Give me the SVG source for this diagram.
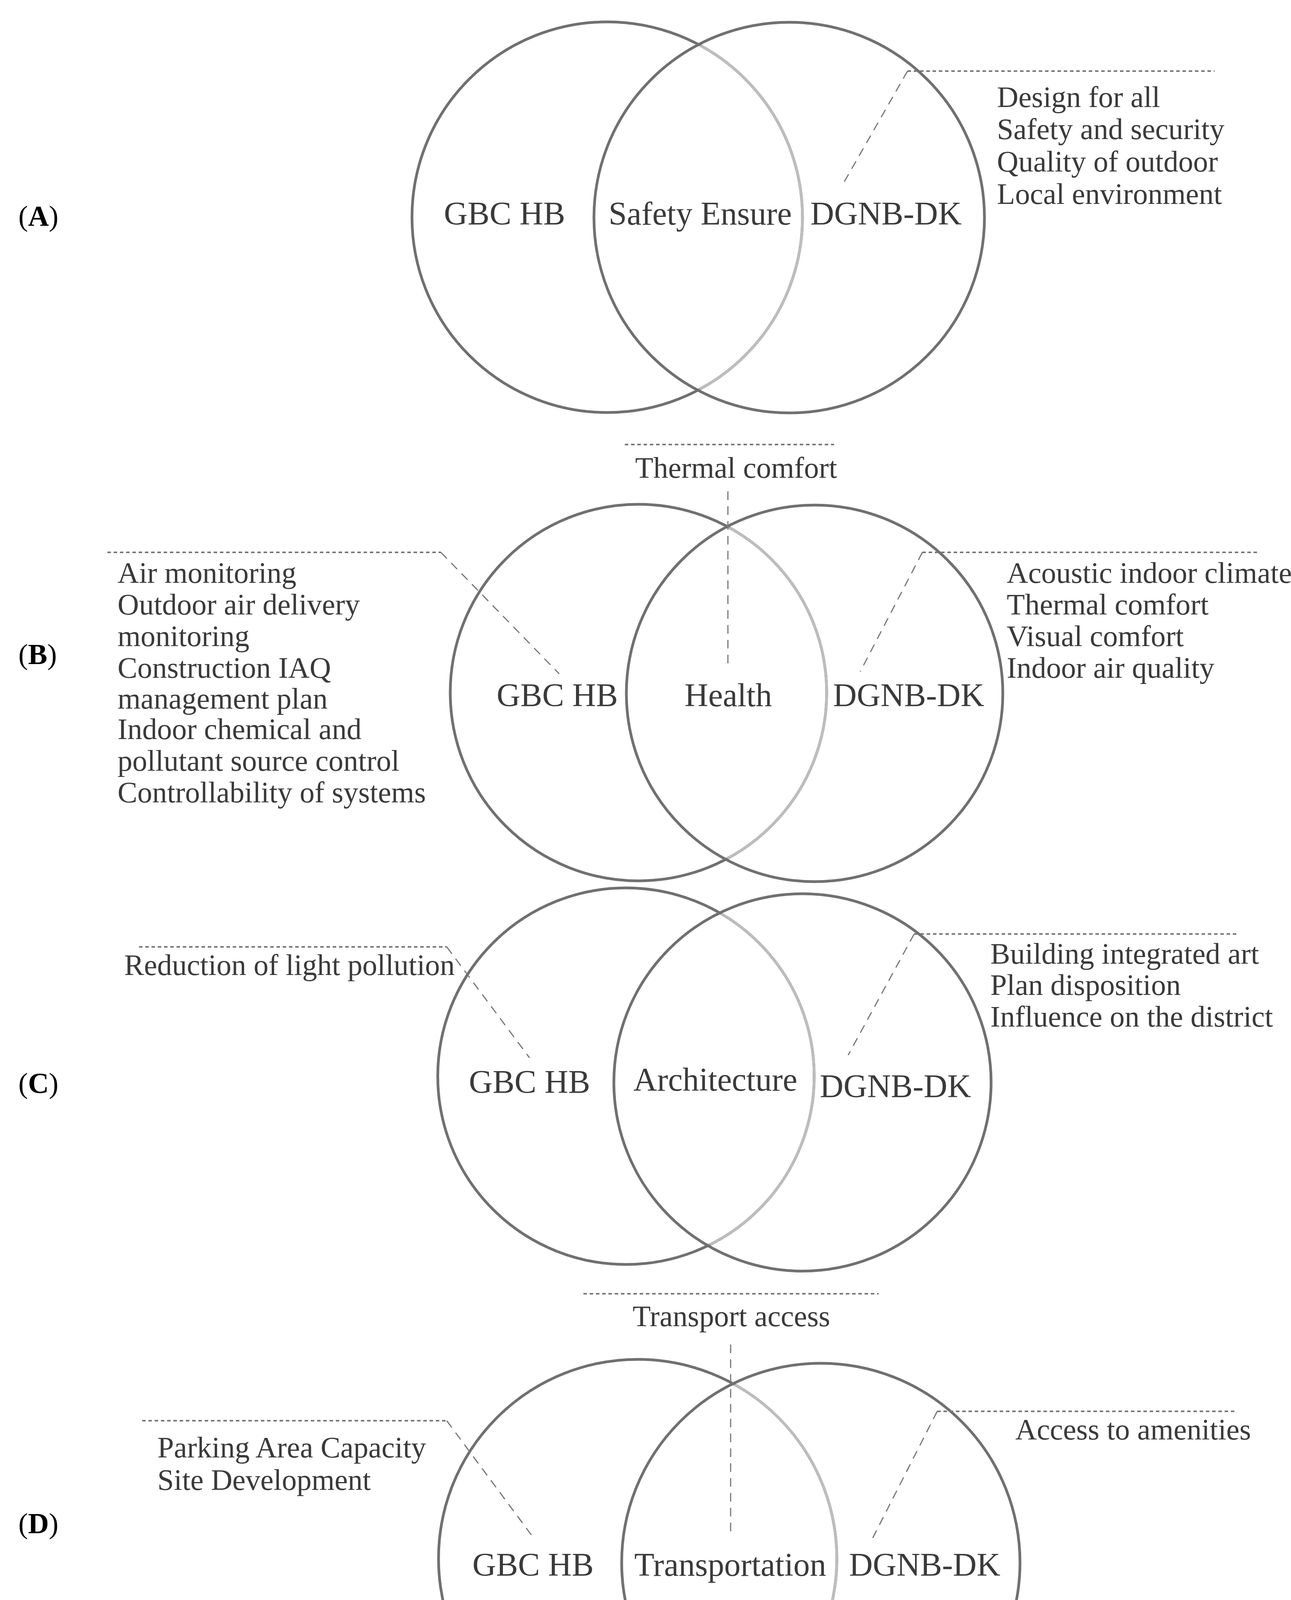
<svg xmlns="http://www.w3.org/2000/svg" width="3306" height="4544" viewBox="0 0 3306 4544">
<style>
text{font-family:"Liberation Serif","DejaVu Serif",serif;fill:#3a3a3a;font-size:76px}
.lab{font-size:84px;text-anchor:middle}
.pl{font-size:74px;fill:#000}
.c{fill:none;stroke:#707070;stroke-width:7}
.cl{fill:none;stroke:#bdbdbd;stroke-width:7}
.h{stroke:#777;stroke-width:4;stroke-dasharray:9 7;fill:none}
.s{stroke:#777;stroke-width:3;stroke-dasharray:22 16;fill:none}
</style>
<defs>
<clipPath id="kA"><circle cx="2021" cy="557" r="496"/></clipPath>
<clipPath id="kB"><circle cx="2086" cy="1775" r="478"/></clipPath>
<clipPath id="kC"><circle cx="2055" cy="2771" r="479"/></clipPath>
<clipPath id="kD"><circle cx="2102" cy="4000" r="506"/></clipPath>
</defs>
<rect width="3306" height="4544" fill="#fff"/>
<g id="panelA">
<text class="pl" x="47" y="578">(<tspan font-weight="bold">A</tspan>)</text>
<g id="A-gbc"><circle class="c" cx="1555" cy="556" r="500"/><circle class="cl" cx="1555" cy="556" r="500" clip-path="url(#kA)"/><text class="lab" x="1292" y="575">GBC HB</text></g>
<g id="A-dgnb"><circle class="c" cx="2021" cy="557" r="500"/><text class="lab" x="2269" y="575">DGNB-DK</text></g>
<g id="A-mid"><text class="lab" x="1793" y="575">Safety Ensure</text></g>
<g id="A-list"><text x="2553" y="274">Design for all</text><text x="2553" y="356">Safety and security</text><text x="2553" y="439">Quality of outdoor</text><text x="2553" y="522">Local environment</text></g>
</g>
<g id="panelB">
<text class="pl" x="47" y="1700">(<tspan font-weight="bold">B</tspan>)</text>
<g id="B-gbc"><circle class="c" cx="1635" cy="1773" r="482"/><circle class="cl" cx="1635" cy="1773" r="482" clip-path="url(#kB)"/><text class="lab" x="1427" y="1808">GBC HB</text></g>
<g id="B-dgnb"><circle class="c" cx="2086" cy="1775" r="482"/><text class="lab" x="2327" y="1808">DGNB-DK</text></g>
<g id="B-mid"><text class="lab" x="1865" y="1808">Health</text></g>
<g id="B-top"><text class="lab" x="1885" y="1223" style="font-size:76px">Thermal comfort</text></g>
<g id="B-left"><text x="301" y="1492">Air monitoring</text><text x="301" y="1573">Outdoor air delivery</text><text x="301" y="1654">monitoring</text><text x="301" y="1735">Construction IAQ</text><text x="301" y="1814">management plan</text><text x="301" y="1892">Indoor chemical and</text><text x="301" y="1973">pollutant source control</text><text x="301" y="2054">Controllability of systems</text></g>
<g id="B-right"><text x="2578" y="1492">Acoustic indoor climate</text><text x="2578" y="1573">Thermal comfort</text><text x="2578" y="1654">Visual comfort</text><text x="2578" y="1735">Indoor air quality</text></g>
</g>
<g id="panelC">
<text class="pl" x="47" y="2798">(<tspan font-weight="bold">C</tspan>)</text>
<g id="C-gbc"><circle class="c" cx="1603" cy="2755" r="482"/><circle class="cl" cx="1603" cy="2755" r="482" clip-path="url(#kC)"/><text class="lab" x="1356" y="2798">GBC HB</text></g>
<g id="C-dgnb"><circle class="c" cx="2055" cy="2771" r="483"/><text class="lab" x="2293" y="2809">DGNB-DK</text></g>
<g id="C-mid"><text class="lab" x="1832" y="2792">Architecture</text></g>
<g id="C-left"><text x="318" y="2496">Reduction of light pollution</text></g>
<g id="C-right"><text x="2536" y="2467">Building integrated art</text><text x="2536" y="2547">Plan disposition</text><text x="2536" y="2628">Influence on the district</text></g>
</g>
<g id="panelD">
<text class="pl" x="47" y="3925">(<tspan font-weight="bold">D</tspan>)</text>
<g id="D-gbc"><circle class="c" cx="1633" cy="3990" r="510"/><circle class="cl" cx="1633" cy="3990" r="510" clip-path="url(#kD)"/><text class="lab" x="1365" y="4034">GBC HB</text></g>
<g id="D-dgnb"><circle class="c" cx="2102" cy="4000" r="510"/><text class="lab" x="2368" y="4034">DGNB-DK</text></g>
<g id="D-mid"><text class="lab" x="1870" y="4034">Transportation</text></g>
<g id="D-top"><text class="lab" x="1873" y="3395" style="font-size:76px">Transport access</text></g>
<g id="D-left"><text x="403" y="3731">Parking Area Capacity</text><text x="403" y="3814">Site Development</text></g>
<g id="D-right"><text x="2600" y="3685">Access to amenities</text></g>
</g>
<g id="connectors">
<path class="h" d="M2324 182H3110"/><path class="s" d="M2324 182L2157 474"/>
<path class="h" d="M1600 1138H2136"/><path class="s" d="M1864 1258V1708"/>
<path class="h" d="M275 1414H1129"/><path class="s" d="M1129 1414L1432 1725"/>
<path class="h" d="M2362 1414H3225"/><path class="s" d="M2362 1414L2203 1719"/>
<path class="h" d="M356 2424H1144"/><path class="s" d="M1144 2424L1356 2708"/>
<path class="h" d="M2341 2391H3167"/><path class="s" d="M2341 2391L2172 2701"/>
<path class="h" d="M1494 3312H2250"/><path class="s" d="M1871 3442V3926"/>
<path class="h" d="M364 3637H1144"/><path class="s" d="M1144 3637L1367 3938"/>
<path class="h" d="M2400 3613H3167"/><path class="s" d="M2400 3613L2235 3937"/>
</g>
</svg>
